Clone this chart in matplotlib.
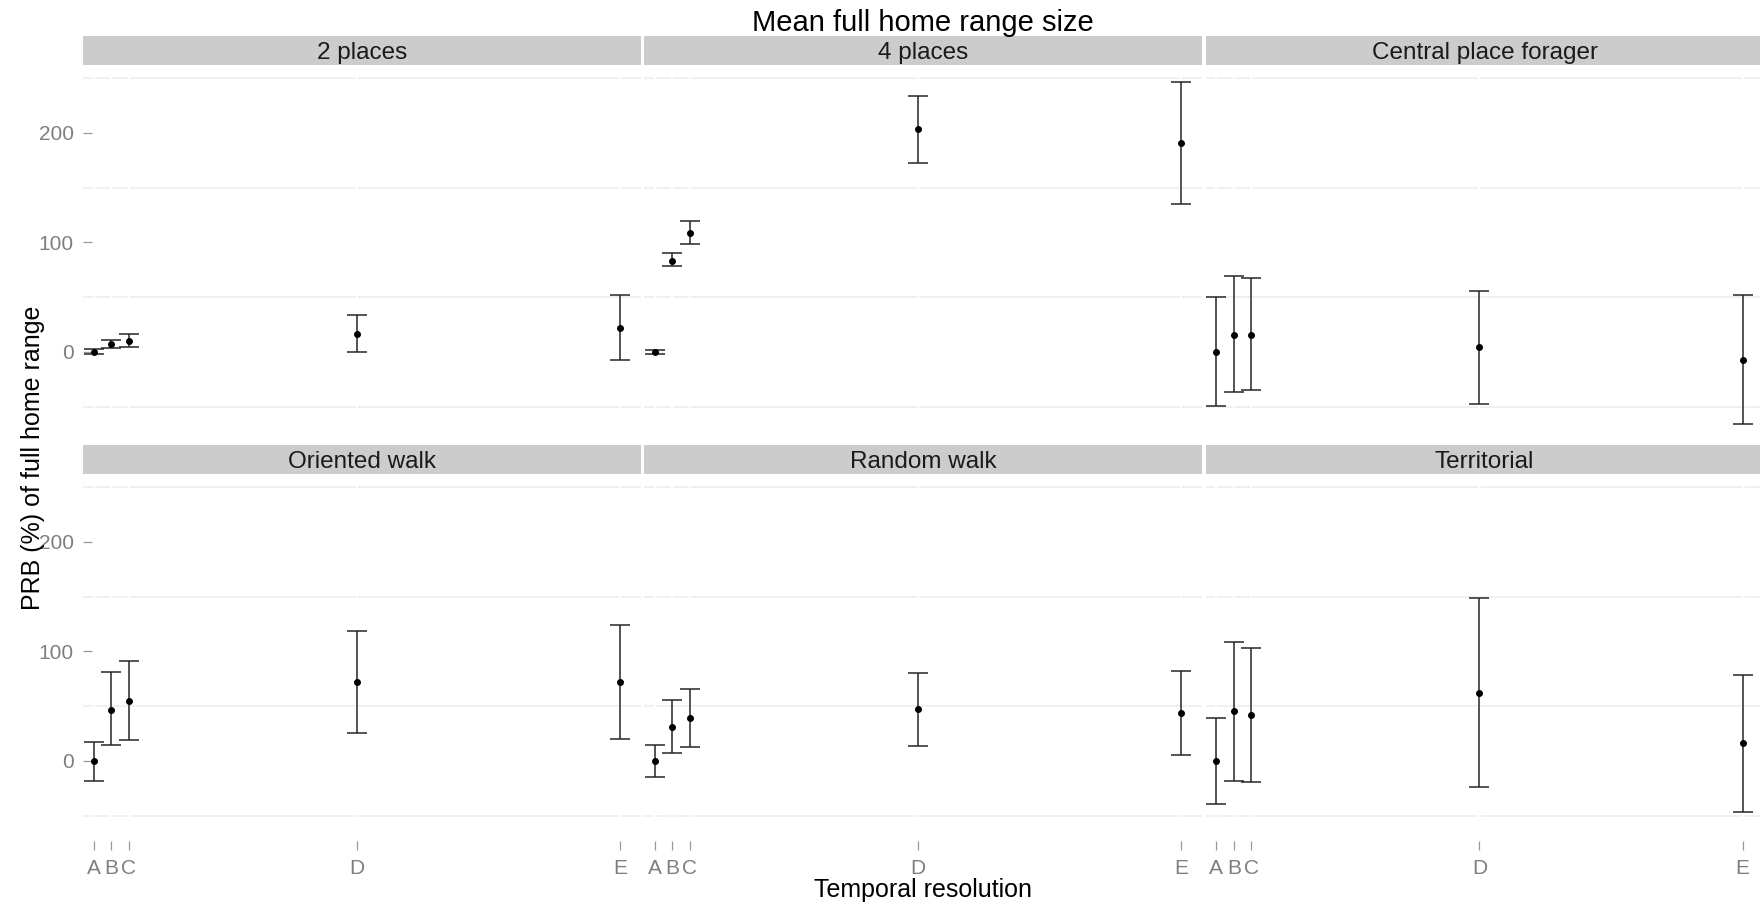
import matplotlib
matplotlib.use("Agg")
import matplotlib.pyplot as plt

plt.rcParams['font.family'] = ['Liberation Sans', 'DejaVu Sans']

# Temporal resolution classes and their position on the x axis
resolutions = ["A", "B", "C", "D", "E"]
resolution_pos = [1, 2, 3, 16, 31]

panel_names = ["2 places", "4 places", "Central place forager",
               "Oriented walk", "Random walk", "Territorial"]

# Mean PRB (%) and interval bounds per movement model
mean_2places = [0, 7.6, 10.0, 16.7, 21.5]
lower_2places = [-2.3, 3.3, 4.5, 0.0, -7.6]
upper_2places = [2.4, 11.2, 16.0, 34.0, 52.0]

mean_4places = [0, 83.3, 108.2, 203.3, 190.6]
lower_4places = [-1.5, 78.2, 98.2, 172.1, 135.5]
upper_4places = [1.5, 90.0, 119.4, 233.9, 246.4]

mean_central = [0, 15.8, 15.8, 4.2, -7.0]
lower_central = [-49.4, -37.0, -35.2, -47.3, -65.8]
upper_central = [50.3, 69.7, 67.3, 55.5, 51.8]

mean_oriented = [0, 46.6, 54.9, 72.3, 72.3]
lower_oriented = [-18.3, 14.3, 19.5, 25.3, 19.8]
upper_oriented = [17.1, 81.1, 91.2, 118.9, 124.4]

mean_random = [0, 31.1, 38.7, 47.0, 43.9]
lower_random = [-14.3, 7.3, 12.8, 13.4, 5.8]
upper_random = [14.3, 55.2, 65.9, 80.2, 82.0]

mean_territorial = [0, 45.4, 41.5, 62.2, 15.9]
lower_territorial = [-39.0, -18.6, -19.5, -24.1, -46.6]
upper_territorial = [39.0, 108.8, 103.0, 148.8, 78.7]

means = [mean_2places, mean_4places, mean_central,
         mean_oriented, mean_random, mean_territorial]
lowers = [lower_2places, lower_4places, lower_central,
          lower_oriented, lower_random, lower_territorial]
uppers = [upper_2places, upper_4places, upper_central,
          upper_oriented, upper_random, upper_territorial]

y_major = [0, 100, 200]
y_minor = [-50, 50, 150, 250]

W, H = 1760, 907
fig = plt.figure(figsize=(W / 100, H / 100), dpi=100)
fig.patch.set_facecolor("white")

col_left = [83, 644, 1205.5]
panel_w = 558
row_top = [65, 474]
panel_h = 376
strip_h = 29

ylim = (-81.4, 262)
xlim = (0.39, 32.19)

for i, name in enumerate(panel_names):
    r, c = divmod(i, 3)
    x0 = col_left[c]
    y_top = row_top[r]
    ax = fig.add_axes([x0 / W, 1 - (y_top + panel_h) / H, panel_w / W, panel_h / H])
    ax.set_facecolor("white")
    for s in ax.spines.values():
        s.set_visible(False)
    ax.set_xlim(*xlim)
    ax.set_ylim(*ylim)
    ax.set_axisbelow(False)

    ax.set_yticks(y_major)
    ax.set_xticks(resolution_pos)
    ax.set_xticklabels(resolutions)

    # light minor grid, crossed by white major verticals
    for yv in y_minor:
        ax.axhline(yv, color="#EFEFEF", lw=1.3, zorder=0.8)
    ax.vlines(resolution_pos, ylim[0], ylim[1], color="white", lw=1.6, zorder=1)

    ax.tick_params(axis="both", which="major", direction="in", length=6.2,
                   width=0.9, color="#9A9A9A", labelcolor="#7F7F7F", labelsize=15)
    ax.tick_params(axis="y", pad=6.8)
    ax.tick_params(axis="x", pad=6.5)
    if c != 0:
        ax.tick_params(axis="y", left=False, labelleft=False)
    if r == 0:
        ax.tick_params(axis="x", bottom=False, labelbottom=False)

    m = means[i]
    lo = lowers[i]
    hi = uppers[i]
    err = [[mi - l for mi, l in zip(m, lo)], [h - mi for mi, h in zip(m, hi)]]
    ax.errorbar(resolution_pos, m, yerr=err, fmt="o", color="black",
                ecolor="#262626", elinewidth=1.1, capsize=7.0, capthick=1.1,
                markersize=4.0, zorder=3, clip_on=False)

    sax = fig.add_axes([x0 / W, 1 - (y_top) / H, panel_w / W, strip_h / H])
    sax.set_facecolor("#CCCCCC")
    sax.set_xticks([])
    sax.set_yticks([])
    for s in sax.spines.values():
        s.set_visible(False)
    sax.text(0.5, 0.42, name, ha="center", va="center", fontsize=17.5,
             color="#1A1A1A", transform=sax.transAxes)

center_x = (col_left[0] + col_left[2] + panel_w) / 2 / W
fig.text(center_x, 1 - 31 / H, "Mean full home range size", ha="center",
         va="baseline", fontsize=21, color="black")
fig.text(center_x, 1 - 897 / H, "Temporal resolution", ha="center",
         va="baseline", fontsize=18, color="black")
fig.text(33 / W, 1 - 458 / H, "PRB (%) of full home range", ha="center",
         va="center", rotation=90, fontsize=18, color="black")

fig.savefig("out.png", dpi=100, facecolor="white")
